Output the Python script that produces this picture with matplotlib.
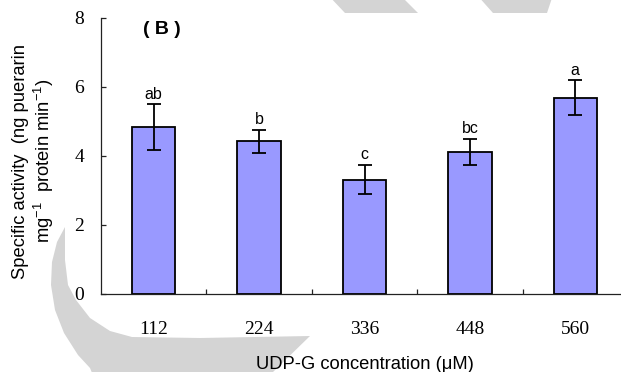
import matplotlib
matplotlib.use('Agg')
import matplotlib.pyplot as plt
from matplotlib.patches import Polygon

# UDP-G 浓度与比活性
concentrations = ['112', '224', '336', '448', '560']
activity = [4.82, 4.41, 3.30, 4.10, 5.67]
errors = [0.66, 0.34, 0.43, 0.38, 0.51]
letters = ['ab', 'b', 'c', 'bc', 'a']
yticks = [0, 2, 4, 6, 8]

plt.rcParams['font.family'] = ['Liberation Sans', 'DejaVu Sans']
plt.rcParams['mathtext.default'] = 'regular'

W, H = 621, 372
fig = plt.figure(figsize=(W / 100, H / 100), dpi=100)


def px(pts):  # 像素坐标 -> 图坐标
    return [(x / W, 1 - y / H) for x, y in pts]


# 背景灰色水印
grey = '#d4d4d4'
stripe1 = [(328, -5), (400, -5), (418, 13), (345, 13)]
stripe2 = [(477, -5), (553, -5), (547, 13), (493, 13)]
crescent = [(65, 227), (65, 260), (68, 285), (76, 300), (90, 318), (110, 331),
            (132, 337), (200, 338), (310, 336), (273, 372), (262, 385),
            (97, 385), (90, 368), (78, 355), (64, 333), (55, 310), (51, 285),
            (52, 262), (57, 242)]
for shape in (stripe1, stripe2, crescent):
    fig.add_artist(Polygon(px(shape), closed=True, facecolor=grey,
                           edgecolor='none', transform=fig.transFigure, zorder=0))

ax = fig.add_axes([101 / W, 1 - 293.5 / H, 527 / W, 276 / H])
ax.set_facecolor('none')

x = list(range(1, len(concentrations) + 1))
ax.bar(x, activity, width=0.41, color='#9999ff', edgecolor='black',
       linewidth=1.3, zorder=2)
ax.errorbar(x, activity, yerr=errors, fmt='none', ecolor='black',
            elinewidth=1.3, capsize=4.8, capthick=1.3, zorder=3)
for xi, v, e, s in zip(x, activity, errors, letters):
    ax.annotate(s, (xi, v + e), xytext=(0, 2), textcoords='offset points',
                ha='center', va='bottom', fontsize=11.5)

ax.set_xlim(0.5, 5.5)
ax.set_ylim(0, 8)
ax.spines['top'].set_visible(False)
ax.spines['right'].set_visible(False)
for sp in ('left', 'bottom'):
    ax.spines[sp].set_color('#222222')
    ax.spines[sp].set_linewidth(0.9)

ax.set_xticks(x)
ax.set_xticklabels(concentrations, fontfamily='Liberation Serif', fontsize=14)
ax.set_xticks([1.5, 2.5, 3.5, 4.5], minor=True)
ax.tick_params(axis='x', which='major', length=0, pad=19.5)
ax.tick_params(axis='x', which='minor', direction='in', length=3.8,
               width=0.9, color='#222222')
ax.set_yticks(yticks)
ax.set_yticklabels([str(t) for t in yticks], fontfamily='Liberation Serif',
                   fontsize=14)
ax.tick_params(axis='y', direction='in', length=3.8, width=0.9,
               color='#222222', pad=12)

ax.set_xlabel('UDP-G concentration (μM)', fontsize=13.2, labelpad=13)
ax.set_ylabel('Specific activity  (ng puerarin\nmg$^{-1}$  protein min$^{-1}$)',
              fontsize=13.2, linespacing=1.2, va='center')
ax.yaxis.set_label_coords(-0.127, 0.48)

ax.text(161.5 / W, 1 - 30 / H, '( B )', transform=fig.transFigure,
        ha='center', va='center', fontsize=14, fontweight='bold')

plt.savefig('out.png', dpi=100)
